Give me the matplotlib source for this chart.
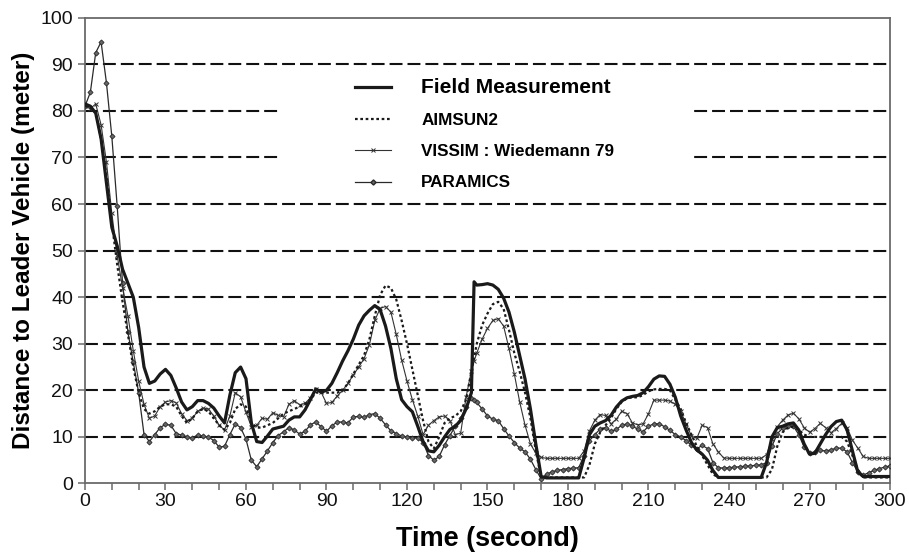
import matplotlib
matplotlib.use("Agg")
import matplotlib.pyplot as plt
from matplotlib.lines import Line2D
from matplotlib.patches import Rectangle

plt.rcParams['font.family'] = ['Liberation Sans', 'DejaVu Sans']

time_s = list(range(0, 145, 2)) + [145] + list(range(146, 301, 2))

field_m = [
    81.5, 81, 79.5, 74, 64.5, 55, 51, 46, 43, 40,
    33.5, 25, 21.5, 22, 23.5, 24.5, 23.2, 20.5, 17.5, 15.8,
    16.5, 17.8, 17.8, 17.2, 16.2, 14.5, 13, 19, 23.8, 25,
    22.5, 13, 9, 8.8, 10.2, 11.7, 12, 12.3, 13.6, 14.3,
    14.3, 15.8, 18, 20.3, 19.6, 20, 21.5, 23.8, 26.3, 28.5,
    31, 34, 36, 37.2, 38.2, 37.3, 33.8, 29, 22.5, 18,
    16.5, 15.4, 12.3, 9, 7, 6.8, 8.2, 10, 11.6, 12.3,
    13.5, 16, 19.5,
    43.3,
    42.6, 42.7, 42.9, 42.6, 41.7, 39.8, 36.8, 32.5, 27.5, 22.4,
    16, 8.5, 1.5, 1.2, 1.2, 1.2, 1.2, 1.2, 1.2, 1.2,
    5.5, 10.5, 12.3, 13, 13.5, 14.6, 16.4, 17.7, 18.4, 18.7,
    18.9, 19.5, 20.8, 22.4, 23.1, 23, 21.3, 18.5, 14.5, 11.5,
    8.8, 7.2, 6.3, 5, 2.8, 1.3, 1.3, 1.3, 1.3, 1.3,
    1.3, 1.3, 1.3, 1.3, 4.5, 10, 12, 12.3, 12.8, 13,
    11.5, 8.5, 6.3, 6.5, 8.5, 10.5, 12.2, 13.3, 13.6, 11.5,
    7, 2.5, 1.5, 1.5, 1.5, 1.5, 1.5, 1.5,
]

aimsun2_m = [
    81, 81, 79.5, 74, 66, 56, 47, 39, 32, 25,
    19.5, 16, 15, 15.5, 16.5, 17, 17, 16.5, 14.5, 13,
    14, 15.5, 16, 15.5, 14, 12.5, 11.5, 13, 16, 17,
    16.5, 13, 12, 12, 12.5, 13, 14, 15, 15.5, 16,
    16.5, 17, 18, 19.5, 19.5, 19.5, 19.5, 19.5, 20, 21.5,
    23.5, 25.5, 27.5, 31, 36, 40.5, 42.5, 42, 39.5, 35,
    30, 24.5, 19, 13.5, 9, 7.5, 10, 13, 14, 14.5,
    15.5, 18, 24,
    27,
    30, 34, 36.5, 38.5, 39, 37.5, 33, 28, 24, 19.5,
    14, 7, 1.3, 1.3, 1.3, 1.3, 1.3, 1.3, 1.3, 1.3,
    1.3, 4, 8.5, 11, 12.5, 14, 16, 17.5, 18.3, 18.5,
    18.5, 19, 19.8, 20.2, 20.3, 20.3, 20, 18, 16, 13,
    10.5, 8, 6, 4, 2, 1.3, 1.3, 1.3, 1.3, 1.3,
    1.3, 1.3, 1.3, 1.3, 1.3, 3, 8, 11, 12, 12.2,
    11.5, 10.5, 10, 10, 10, 10, 10, 10, 10, 9,
    6, 3, 1.3, 1.3, 1.3, 1.3, 1.3, 1.3,
]

vissim_m = [
    81, 80.5, 81.5, 77, 69, 58, 49, 42, 36, 28.5,
    22, 17, 14, 14.5, 16.5, 17.5, 17.8, 17.3, 15, 13.5,
    14, 15.5, 16.2, 16, 14.5, 12.5, 11.5, 14.5, 19.5, 18.6,
    15.3, 12.2, 12.5, 14, 13.8, 15.2, 14.6, 14.3, 17, 17.8,
    16.9, 17.2, 18.4, 20.2, 19.6, 17.2, 17.4, 18.8, 20, 21.5,
    23.3, 25, 26.8, 29.8, 35, 37.6, 38, 36.8, 32, 26.5,
    22, 18, 14.5, 10.5, 12.5, 13.5, 14.3, 14.5, 13.5, 10.5,
    10.8, 18.5, 24.2,
    26.3,
    28, 31, 33.3, 35, 35.4, 33.8, 29, 23.5, 17.5, 12.5,
    8.5, 6.5, 5.6, 5.4, 5.4, 5.4, 5.4, 5.4, 5.4, 5.4,
    7, 11.3, 13.6, 14.8, 14.6, 12.8, 13.8, 15.5, 15, 13,
    12.6, 12.8, 15, 17.9, 17.9, 17.9, 17.7, 17, 15.5, 12.8,
    10.2, 9.7, 12.5, 12, 8.5, 6.8, 5.5, 5.4, 5.4, 5.4,
    5.4, 5.4, 5.4, 5.4, 6.2, 9.5, 12.2, 13.6, 14.7, 15.1,
    13.9, 12, 11, 11.8, 12.9, 12, 10.9, 11.8, 12.9, 12,
    9.3, 7.6, 5.8, 5.4, 5.4, 5.4, 5.4, 5.4,
]

paramics_m = [
    81, 84, 92.5, 94.8, 86, 74.5, 59.5, 43, 32.5, 26,
    19.5, 10.5, 9, 10.5, 12, 12.7, 12.5, 10.7, 10.4, 10,
    9.8, 10.4, 10.2, 10, 9.2, 7.8, 8, 10.5, 12.8, 12,
    9.5, 5, 3.6, 5.3, 7, 8.8, 10.3, 11.1, 12, 11.5,
    10.6, 11.2, 12.6, 13.2, 12.2, 11.2, 12.4, 13.2, 13.2, 13,
    14.3, 14.4, 14.2, 14.8, 15, 14, 12.6, 11.3, 10.7, 10.2,
    10, 9.8, 9.8, 8.8, 6, 5, 5.8, 8.3, 10.3, 12.3,
    14, 16.5, 18.3,
    18,
    17.4, 16, 14.5, 13.8, 13.5, 11.8, 10.2, 8.8, 7.6, 6.8,
    5.2, 3, 1, 2, 2.5, 2.8, 3, 3.2, 3.3, 3.4,
    6, 9.2, 10.5, 11.7, 12, 11.2, 11.6, 12.5, 12.8, 12.4,
    11.6, 11.1, 12.3, 12.8, 12.8, 12.2, 11.4, 10.5, 10, 9.2,
    8.2, 7.4, 8.2, 7.5, 4.5, 3.4, 3.3, 3.4, 3.5, 3.6,
    3.7, 3.8, 3.9, 4, 4.5, 8, 10.7, 11.9, 12.4, 12.3,
    10.5, 7.8, 6.5, 6.8, 7.1, 7, 7.2, 7.6, 7.6, 6.8,
    4.5, 2.5, 1.8, 2.3, 2.8, 3.2, 3.5, 3.8,
]

series_labels = ["Field Measurement", "AIMSUN2", "VISSIM : Wiedemann 79", "PARAMICS"]
x_ticks = [0, 30, 60, 90, 120, 150, 180, 210, 240, 270, 300]
y_ticks = [0, 10, 20, 30, 40, 50, 60, 70, 80, 90, 100]

fig = plt.figure(figsize=(9.09, 5.52), dpi=100)
ax = fig.add_axes([0.0935, 0.1241, 0.8856, 0.8438])

ink = '#1a1a1a'
ax.plot(time_s, paramics_m, color='#2a2a2a', lw=0.9, marker='D', ms=2.6,
        mec='#2a2a2a', mfc='#666666', mew=0.6, zorder=3)
ax.plot(time_s, vissim_m, color='#333333', lw=0.8, marker='x', ms=3.0,
        mew=0.7, zorder=3)
ax.plot(time_s, aimsun2_m, color=ink, lw=1.6, ls=(0, (1.2, 1.2)), zorder=4)
ax.plot(time_s, field_m, color=ink, lw=2.3, zorder=5)

ax.set_xlim(0, 300)
ax.set_ylim(0, 100)
ax.set_xticks(x_ticks)
ax.set_xticks(list(range(0, 301, 10)), minor=True)
ax.set_yticks(y_ticks)

ax.set_axisbelow(True)
ax.yaxis.grid(True, color='#111111', lw=1.5, ls=(0, (6.2, 2.4)))
gl = ax.get_ygridlines()
gl[0].set_visible(False)
gl[-1].set_visible(False)

for s in ax.spines.values():
    s.set_color('#6a6a6a')
    s.set_linewidth(1.3)

ax.tick_params(axis='both', which='both', direction='out', length=5,
               width=1.1, color='#6a6a6a', labelsize=14, labelcolor='#111111')
ax.tick_params(axis='x', pad=1.5)

ax.set_xlabel("Time (second)", fontsize=19.5, fontweight='bold', labelpad=12)
ax.set_ylabel("Distance to Leader Vehicle (meter)", fontsize=17.5,
              fontweight='bold', labelpad=4)

# white background behind the legend (covers the dashed grid)
ax.add_patch(Rectangle((0.242, 0.613), 0.51, 0.27, transform=ax.transAxes,
                       facecolor='white', edgecolor='none', zorder=1))

handles = [
    Line2D([], [], color=ink, lw=2.3),
    Line2D([], [], color=ink, lw=1.6, ls=(0, (1.2, 1.2))),
    Line2D([], [], color='#333333', lw=0.8, marker='x', ms=3.0, mew=0.7),
    Line2D([], [], color='#2a2a2a', lw=0.9, marker='D', ms=2.6,
           mec='#2a2a2a', mfc='#666666'),
]
leg = ax.legend(handles, series_labels, loc='upper left',
                bbox_to_anchor=(0.335, 0.871), frameon=False,
                prop={'weight': 'bold', 'size': 12.3},
                handlelength=2.1, handletextpad=1.8, labelspacing=0.95,
                borderpad=0, borderaxespad=0, markerfirst=True)
leg.set_zorder(6)
leg.get_texts()[0].set_fontsize(15)
for h in leg.legend_handles:
    try:
        h.set_markevery([1])
    except Exception:
        pass

fig.savefig("out.png", dpi=100, facecolor='white')
